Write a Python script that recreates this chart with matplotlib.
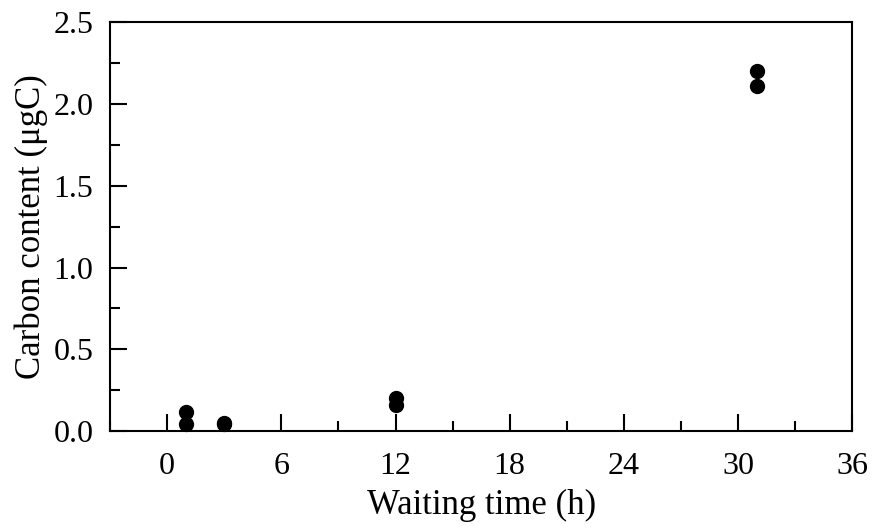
import matplotlib.pyplot as plt
from matplotlib.ticker import MultipleLocator

plt.rcParams['font.family'] = ['Liberation Serif', 'DejaVu Serif']

# waiting time (h) and carbon content (ugC)
wait_h = [1, 1, 3, 3, 12, 12, 31, 31]
carbon = [0.12, 0.045, 0.05, 0.045, 0.20, 0.16, 2.20, 2.11]

fig = plt.figure(figsize=(8.74, 5.29), dpi=100)
ax = fig.add_axes([0.126, 0.185, 0.849, 0.773])

ax.plot(wait_h, carbon, 'o', color='black', markersize=10, clip_on=False)

ax.set_xlim(-3, 36)
ax.set_ylim(0, 2.5)
ax.xaxis.set_major_locator(MultipleLocator(6))
ax.xaxis.set_minor_locator(MultipleLocator(3))
ax.yaxis.set_major_locator(MultipleLocator(0.5))
ax.yaxis.set_minor_locator(MultipleLocator(0.25))
ax.yaxis.set_major_formatter(plt.FormatStrFormatter('%.1f'))

ax.tick_params(which='both', direction='in', top=False, right=False,
               width=1.5, labelsize=23)
ax.tick_params(axis='x', which='major', pad=15)
ax.tick_params(axis='y', which='major', pad=12)
ax.tick_params(which='major', length=12)
ax.tick_params(which='minor', length=7)
for s in ax.spines.values():
    s.set_linewidth(1.5)

ax.set_xlabel('Waiting time (h)', fontsize=25, labelpad=6)
ax.set_ylabel('Carbon content (μgC)', fontsize=25, labelpad=4)

fig.savefig('out.png', dpi=100)
